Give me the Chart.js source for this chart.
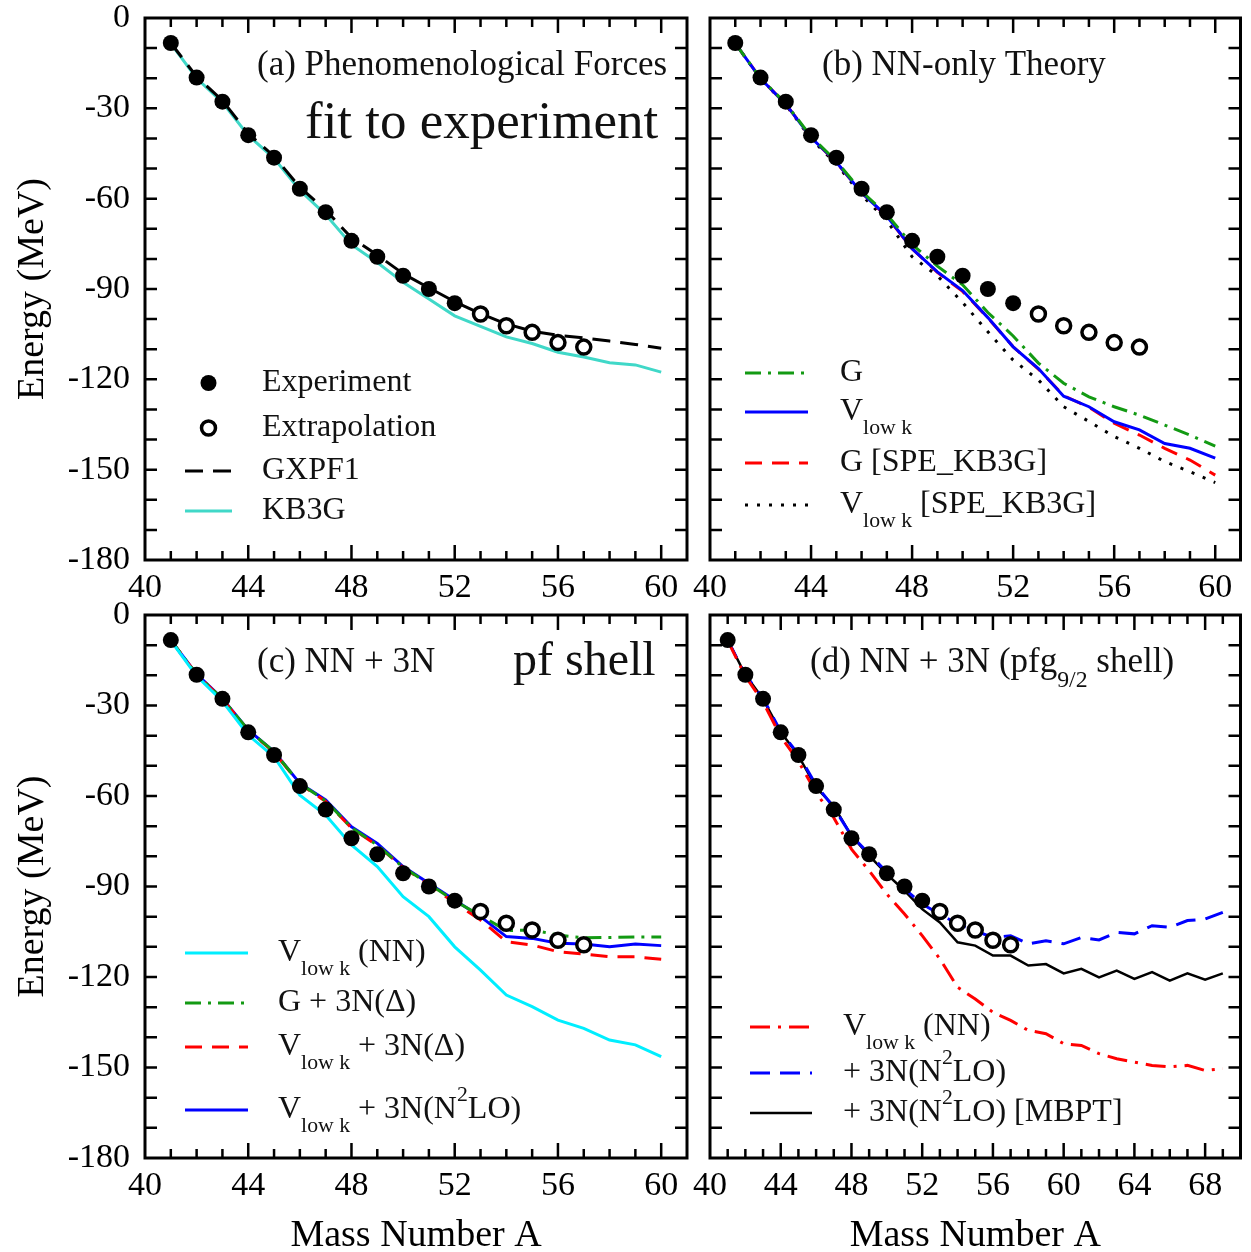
<!DOCTYPE html>
<html>
<head>
<meta charset="utf-8">
<script src="https://cdn.jsdelivr.net/npm/chart.js@4.4.1/dist/chart.umd.min.js"></script>
<style>
  html, body { margin: 0; padding: 0; background: #fff; overflow: hidden; }
  #page { position: relative; width: 1251px; height: 1252px; }
  canvas { position: absolute; }
</style>
</head>
<body>
<div id="page">
  <canvas id="chartA" width="705" height="610" style="left:0;top:0"></canvas>
  <canvas id="chartB" width="561" height="610" style="left:690px;top:0"></canvas>
  <canvas id="chartC" width="705" height="652" style="left:0;top:600px"></canvas>
  <canvas id="chartD" width="561" height="652" style="left:690px;top:600px"></canvas>
</div>
<script>
// mass numbers
const massPf = [41, 42, 43, 44, 45, 46, 47, 48, 49, 50, 51, 52, 53, 54, 55, 56, 57, 58, 59, 60];
const massD = [41, 42, 43, 44, 45, 46, 47, 48, 49, 50, 51, 52, 53, 54, 55, 56, 57, 58, 59, 60,
               61, 62, 63, 64, 65, 66, 67, 68, 69];
const xTicksPf = [40, 44, 48, 52, 56, 60];
const xTicksD = [40, 44, 48, 52, 56, 60, 64, 68];
const yTickLabels = [0, -30, -60, -90, -120, -150, -180];

// experiment + extrapolation
const expA = [41, 42, 43, 44, 45, 46, 47, 48, 49, 50, 51, 52];
const expE = [-8.3, -19.8, -27.8, -38.9, -46.4, -56.7, -64.5, -74.0, -79.3, -85.6, -90.0, -94.7];
const extA = [53, 54, 55, 56, 57];
const extE = [-98.3, -102.2, -104.4, -107.8, -109.3];

// (a) phenomenological
const gxpf1 = [-8.3, -19.5, -27.4, -38.4, -45.9, -56.2, -63.8, -73.0, -78.7, -84.9, -89.6, -94.2,
               -98.2, -101.6, -104.0, -105.4, -106.2, -107.3, -108.4, -109.7];
const kb3g = [-8.5, -20.0, -28.0, -39.0, -46.6, -57.2, -65.3, -75.3, -81.2, -87.8, -93.3, -98.9,
              -102.4, -105.9, -108.1, -111.0, -112.6, -114.5, -115.2, -117.6];

// (b) NN only
const gOnly = [-8.4, -20.0, -28.4, -39.4, -47.5, -57.6, -65.3, -75.2, -82.4, -88.6, -97.8, -105.6,
               -114.6, -121.3, -125.8, -129.1, -131.9, -135.2, -138.5, -142.2];
const vlowkOnly = [-8.4, -20.1, -28.6, -39.7, -47.8, -58.0, -65.8, -76.6, -84.3, -90.5, -99.5, -109.2,
                   -116.4, -125.6, -129.1, -134.1, -136.8, -141.3, -142.9, -146.2];
const gSpe = [-8.4, -20.1, -28.6, -39.7, -47.9, -58.0, -66.0, -76.6, -84.5, -90.8, -99.6, -109.2,
              -116.6, -125.4, -129.3, -134.6, -138.5, -142.9, -146.8, -151.8];
const vlowkSpe = [-8.4, -20.2, -28.8, -40.1, -48.5, -58.8, -67.3, -79.3, -85.6, -94.5, -104.2, -113.6,
                  -120.2, -129.1, -134.0, -139.0, -142.9, -147.3, -150.7, -154.3];

// (c) NN + 3N, pf shell
const cVlowkNN = [-8.5, -20.2, -28.6, -39.8, -47.0, -59.7, -66.3, -76.2, -83.4, -93.4, -100.0, -110.0,
                  -117.7, -126.0, -129.8, -134.3, -137.0, -140.9, -142.5, -146.4];
const cG3nDelta = [-8.3, -19.7, -27.8, -38.1, -45.3, -55.9, -61.6, -70.5, -76.3, -83.6, -89.2, -94.8,
                   -99.6, -104.6, -104.4, -106.1, -107.0, -106.9, -106.7, -106.7];
const cVlowk3nDelta = [-8.3, -19.7, -27.9, -38.2, -45.5, -56.0, -61.8, -70.6, -76.4, -83.7, -89.4, -95.5,
                       -101.1, -108.3, -109.4, -111.6, -112.4, -113.3, -113.3, -114.1];
const cVlowk3nN2lo = [-8.3, -19.6, -27.7, -38.1, -45.3, -55.8, -61.3, -70.2, -75.7, -83.4, -88.9, -94.5,
                      -100.0, -106.6, -107.2, -108.8, -109.1, -110.0, -109.1, -109.6];

// (d) NN + 3N, pfg9/2 shell
const dVlowkNN = [-8.5, -20.3, -28.8, -40.3, -48.5, -58.9, -67.2, -77.6, -84.8, -92.5, -99.1, -106.3,
                  -114.0, -123.4, -127.3, -131.7, -134.4, -137.7, -138.8, -142.1, -142.7, -145.4,
                  -147.1, -148.2, -149.3, -149.8, -149.3, -151.0, -150.4];
const dN2lo = [-8.3, -19.8, -27.6, -38.6, -46.2, -56.4, -63.8, -73.2, -79.2, -85.3, -90.8, -95.8,
               -99.2, -102.4, -104.7, -106.9, -106.3, -109.0, -108.0, -109.0, -106.9, -107.7,
               -105.2, -105.7, -103.0, -103.5, -101.3, -100.8, -98.6];
const dMbpt = [-8.3, -19.8, -27.8, -38.8, -46.6, -57.2, -63.3, -73.2, -79.8, -85.9, -91.4, -97.5,
               -101.9, -108.5, -109.6, -112.9, -112.9, -116.2, -115.7, -118.8, -117.3, -120.1,
               -117.9, -120.6, -118.4, -121.2, -118.8, -120.9, -118.8];

// legend labels, [text, 'sub'|'sup'|'']
const legendA = [[['Experiment']], [['Extrapolation']], [['GXPF1']], [['KB3G']]];
const legendB = [
  [['G']],
  [['V'], ['low k', 'sub']],
  [['G [SPE_KB3G]']],
  [['V'], ['low k', 'sub'], [' [SPE_KB3G]']]
];
const legendC = [
  [['V'], ['low k', 'sub'], [' (NN)']],
  [['G + 3N(\u0394)']],
  [['V'], ['low k', 'sub'], [' + 3N(\u0394)']],
  [['V'], ['low k', 'sub'], [' + 3N(N'], ['2', 'sup'], ['LO)']]
];
const legendD = [
  [['V'], ['low k', 'sub'], [' (NN)']],
  [['+ 3N(N'], ['2', 'sup'], ['LO)']],
  [['+ 3N(N'], ['2', 'sup'], ['LO) [MBPT]']]
];

const serif = "'Liberation Serif', 'Times New Roman', serif";

function pts(xs, ys) {
  return ys.map((y, i) => ({ x: xs[i], y: y }));
}

function lineSet(label, xs, ys, color, dash, width) {
  return {
    label: label, data: pts(xs, ys), showLine: true,
    borderColor: color, backgroundColor: color, borderWidth: width || 3,
    borderDash: dash || [], pointRadius: 0, pointHoverRadius: 0, tension: 0, fill: false
  };
}

function expSets() {
  return [
    { label: 'Experiment', data: pts(expA, expE), showLine: false, pointRadius: 8, pointHoverRadius: 8,
      backgroundColor: '#000', borderColor: '#000', borderWidth: 0 },
    { label: 'Extrapolation', data: pts(extA, extE), showLine: false, pointRadius: 7, pointHoverRadius: 7,
      backgroundColor: '#fff', borderColor: '#000', borderWidth: 3.5 }
  ];
}

function drawParts(ctx, x, y, size, parts) {
  ctx.textBaseline = 'middle';
  ctx.textAlign = 'left';
  parts.forEach(p => {
    const mode = p[1] || '';
    let s = size, dy = 0;
    if (mode === 'sub') { s = size * 0.68; dy = size * 0.5; }
    if (mode === 'sup') { s = size * 0.68; dy = -size * 0.47; }
    ctx.font = s + 'px ' + serif;
    ctx.fillText(p[0], x, y + dy);
    x += ctx.measureText(p[0]).width;
  });
}

// frame and inward ticks on all four sides
const framePlugin = {
  id: 'frame',
  afterDatasetsDraw(chart) {
    const ctx = chart.ctx, a = chart.chartArea, x = chart.scales.x, y = chart.scales.y;
    ctx.save();
    ctx.strokeStyle = '#000';
    ctx.lineWidth = 2.5;
    ctx.beginPath();
    for (let v = x.min + 1; v < x.max; v++) {
      const px = x.getPixelForValue(v);
      const len = (v - 40) % 4 === 0 ? 15 : 9;
      ctx.moveTo(px, a.bottom); ctx.lineTo(px, a.bottom - len);
      ctx.moveTo(px, a.top); ctx.lineTo(px, a.top + len);
    }
    for (let v = y.min + 10; v < y.max; v += 10) {
      const py = y.getPixelForValue(v);
      ctx.moveTo(a.left, py); ctx.lineTo(a.left + 12, py);
      ctx.moveTo(a.right, py); ctx.lineTo(a.right - 12, py);
    }
    ctx.stroke();
    ctx.lineWidth = 3;
    ctx.strokeRect(a.left, a.top, a.right - a.left, a.bottom - a.top);
    ctx.restore();
  }
};

// panel labels and legend drawn inside the plot
const textPlugin = {
  id: 'panelText',
  afterDraw(chart, args, opts) {
    const ctx = chart.ctx, a = chart.chartArea;
    ctx.save();
    ctx.fillStyle = '#111';
    (opts.notes || []).forEach(n => drawParts(ctx, a.left + n.x, a.top + n.y, n.size, n.parts));
    const lg = opts.legend;
    if (lg) {
      lg.rows.forEach((row, i) => {
        const ds = chart.data.datasets[lg.ds[i]];
        const yy = a.top + row;
        const x0 = a.left + lg.x0, x1 = a.left + lg.x1;
        if (ds.showLine) {
          ctx.strokeStyle = ds.borderColor;
          ctx.lineWidth = ds.borderWidth;
          ctx.setLineDash(ds.borderDash);
          ctx.beginPath(); ctx.moveTo(x0, yy); ctx.lineTo(x1, yy); ctx.stroke();
          ctx.setLineDash([]);
        } else {
          ctx.beginPath();
          ctx.arc((x0 + x1) / 2, yy, ds.pointRadius, 0, Math.PI * 2);
          ctx.fillStyle = ds.backgroundColor; ctx.fill();
          if (ds.borderWidth) { ctx.strokeStyle = ds.borderColor; ctx.lineWidth = ds.borderWidth; ctx.stroke(); }
        }
        ctx.fillStyle = '#111';
        drawParts(ctx, a.left + lg.tx, yy, 32, lg.labels[i]);
      });
    }
    ctx.restore();
  }
};

function noPad(s) {
  s.paddingTop = 0; s.paddingBottom = 0; s.paddingLeft = 0; s.paddingRight = 0;
}

function makeChart(id, cfg) {
  return new Chart(document.getElementById(id), {
    type: 'scatter',
    data: { datasets: cfg.datasets },
    options: {
      responsive: false,
      animation: false,
      events: [],
      layout: { padding: cfg.padding },
      plugins: { legend: { display: false }, tooltip: { enabled: false }, panelText: cfg.text },
      scales: {
        x: {
          type: 'linear', min: 40, max: cfg.xMax,
          grid: { display: false, drawTicks: false }, border: { display: false },
          afterBuildTicks: s => { s.ticks = cfg.xTicks.map(v => ({ value: v })); },
          afterFit: s => { s.height = cfg.xHeight; noPad(s); },
          ticks: { padding: 11, color: '#000', font: { family: serif, size: 34, lineHeight: 1 } },
          title: { display: cfg.xTitle, text: 'Mass Number A', color: '#000',
                   font: { family: serif, size: 38, lineHeight: 0.84 }, padding: { top: 0, bottom: 0 } }
        },
        y: {
          type: 'linear', min: -180, max: 0,
          grid: { display: false, drawTicks: false }, border: { display: false },
          afterBuildTicks: s => { s.ticks = yTickLabels.map(v => ({ value: v })); },
          afterFit: s => { s.width = cfg.yWidth; noPad(s); },
          ticks: { display: cfg.yLabels, padding: 15, color: '#000', font: { family: serif, size: 34, lineHeight: 1 } },
          title: { display: cfg.yLabels, text: 'Energy (MeV)', color: '#000',
                   font: { family: serif, size: 38 }, padding: { top: 10, bottom: 0 } }
        }
      }
    },
    plugins: [framePlugin, textPlugin]
  });
}

const green = '#139a13';

makeChart('chartA', {
  datasets: expSets().concat([
    lineSet('GXPF1', massPf, gxpf1, '#000', [18, 10]),
    lineSet('KB3G', massPf, kb3g, '#40d8c8')
  ]),
  padding: { top: 18, right: 18, bottom: 0, left: 0 },
  xMax: 61, xTicks: xTicksPf, xHeight: 50, xTitle: false, yWidth: 145, yLabels: true,
  text: {
    notes: [
      { x: 112, y: 48, size: 35, parts: [['(a) Phenomenological Forces']] },
      { x: 160, y: 106, size: 53, parts: [['fit to experiment']] }
    ],
    legend: { x0: 40, x1: 87, tx: 117, rows: [365, 410, 453, 493], ds: [0, 1, 2, 3], labels: legendA }
  }
});

makeChart('chartB', {
  datasets: expSets().concat([
    lineSet('G', massPf, gOnly, green, [16, 7, 3, 7]),
    lineSet('Vlowk', massPf, vlowkOnly, '#0000ff'),
    lineSet('G [SPE_KB3G]', massPf, gSpe, '#ff0000', [17, 10]),
    lineSet('Vlowk [SPE_KB3G]', massPf, vlowkSpe, '#000', [3, 9])
  ]),
  padding: { top: 18, right: 1, bottom: 0, left: 0 },
  xMax: 61, xTicks: xTicksPf, xHeight: 50, xTitle: false, yWidth: 20, yLabels: false,
  text: {
    notes: [{ x: 112, y: 48, size: 35, parts: [['(b) NN-only Theory']] }],
    legend: { x0: 35, x1: 98, tx: 130, rows: [355, 394, 445, 487], ds: [2, 3, 4, 5], labels: legendB }
  }
});

makeChart('chartC', {
  datasets: expSets().concat([
    lineSet('Vlowk (NN)', massPf, cVlowkNN, '#00eeff'),
    lineSet('G + 3N(D)', massPf, cG3nDelta, green, [16, 7, 3, 7]),
    lineSet('Vlowk + 3N(D)', massPf, cVlowk3nDelta, '#ff0000', [17, 10]),
    lineSet('Vlowk + 3N(N2LO)', massPf, cVlowk3nN2lo, '#0000ff')
  ]),
  padding: { top: 15, right: 18, bottom: 0, left: 0 },
  xMax: 61, xTicks: xTicksPf, xHeight: 94, xTitle: true, yWidth: 145, yLabels: true,
  text: {
    notes: [
      { x: 112, y: 48, size: 35, parts: [['(c) NN + 3N']] },
      { x: 368, y: 47, size: 48, parts: [['pf shell']] }
    ],
    legend: { x0: 40, x1: 103, tx: 133, rows: [338, 388, 432, 495], ds: [2, 3, 4, 5], labels: legendC }
  }
});

makeChart('chartD', {
  datasets: expSets().concat([
    lineSet('Vlowk (NN)', massD, dVlowkNN, '#ff0000', [20, 8, 3, 8]),
    lineSet('+ 3N(N2LO)', massD, dN2lo, '#0000ff', [20, 10]),
    lineSet('+ 3N(N2LO) [MBPT]', massD, dMbpt, '#000', [], 2.5)
  ]),
  padding: { top: 15, right: 1, bottom: 0, left: 0 },
  xMax: 70, xTicks: xTicksD, xHeight: 94, xTitle: true, yWidth: 20, yLabels: false,
  text: {
    notes: [{ x: 100, y: 48, size: 35, parts: [['(d) NN + 3N (pfg'], ['9/2', 'sub'], [' shell)']] }],
    legend: { x0: 40, x1: 102, tx: 133, rows: [412, 458, 498], ds: [2, 3, 4], labels: legendD }
  }
});
</script>
</body>
</html>
